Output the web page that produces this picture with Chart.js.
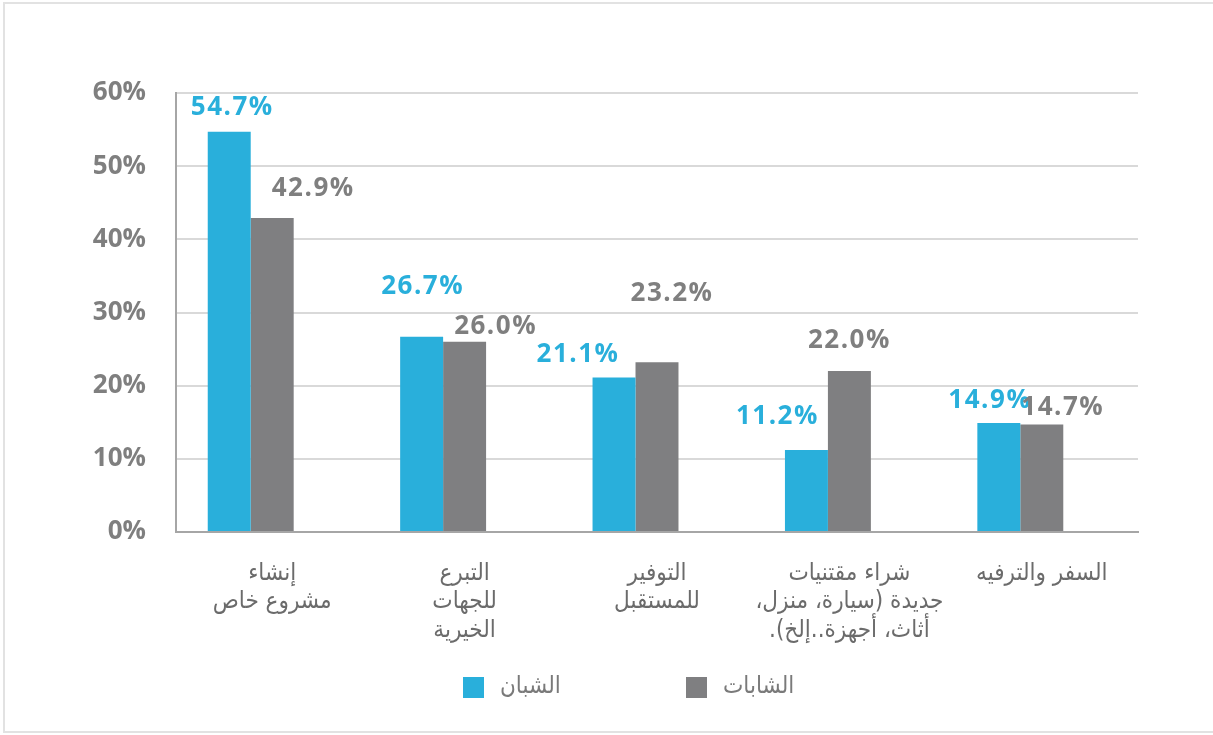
<!DOCTYPE html>
<html>
<head>
<meta charset="utf-8">
<script src="https://cdn.jsdelivr.net/npm/chart.js@4.4.1/dist/chart.umd.min.js"></script>
<style>
  html, body { margin: 0; padding: 0; background: #fff; }
  #wrap { position: relative; width: 1213px; height: 735px; }
  #frame { position: absolute; left: 3px; top: 2px; width: 1212px; height: 731px; border-left: 2px solid #e2e2e2; border-top: 2px solid #e2e2e2; border-bottom: 2px solid #e2e2e2; box-sizing: border-box; pointer-events: none; }
</style>
</head>
<body>
<div id="wrap">
  <canvas id="c" width="1213" height="735"></canvas>
  <div id="frame"></div>
</div>
<script>
const categories = [
  ["إنشاء", "مشروع خاص"],
  ["التبرع", "للجهات", "الخيرية"],
  ["التوفير", "للمستقبل"],
  ["شراء مقتنيات", "جديدة (سيارة، منزل،", "أثاث، أجهزة..إلخ)."],
  ["السفر والترفيه"]
];
const seriesNames = ["الشبان", "الشابات"];
const youngMen = [54.7, 26.7, 21.1, 11.2, 14.9];
const youngWomen = [42.9, 26.0, 23.2, 22.0, 14.7];
const yTicks = [0, 10, 20, 30, 40, 50, 60];

const BLUE = '#29afdb';
const GRAY = '#7f7f81';
const TEXT_GRAY = '#7f7f7f';

// label placement tweaks (pixels, relative to bar top-center)
const labelOffsets = [
  [[3, -24], [1, -50], [-36, -23], [-29, -33], [-9, -22]],
  [[41, -30], [31, -15], [15, -69], [0, -30], [21, -17]]
];

const valueLabels = {
  id: 'valueLabels',
  afterDatasetsDraw(chart) {
    const ctx = chart.ctx;
    ctx.save();
    ctx.font = 'bold 26px "Open Sans", "DejaVu Sans", sans-serif';
    try { ctx.letterSpacing = '1.5px'; } catch (e) {}
    ctx.textAlign = 'center';
    ctx.textBaseline = 'middle';
    [0, 1].forEach(di => {
      const ds = chart.data.datasets[di];
      const meta = chart.getDatasetMeta(di);
      meta.data.forEach((bar, i) => {
        const off = labelOffsets[di][i];
        ctx.fillStyle = di === 0 ? BLUE : TEXT_GRAY;
        ctx.fillText(ds.data[i].toFixed(1) + '%', bar.x + off[0], bar.y + off[1]);
      });
    });
    ctx.restore();
  }
};

const customLegend = {
  id: 'customLegend',
  afterDraw(chart) {
    const ctx = chart.ctx;
    ctx.save();
    ctx.font = '24px "DejaVu Sans Condensed", "DejaVu Sans", sans-serif';
    ctx.textBaseline = 'middle';
    ctx.textAlign = 'left';
    const xs = [463, 686];
    const y = 687;
    [0, 1].forEach(di => {
      const ds = chart.data.datasets[di];
      ctx.fillStyle = ds.backgroundColor;
      ctx.fillRect(xs[di], y - 10, 21, 21);
      ctx.fillStyle = '#7a7a7a';
      ctx.fillText('\u200F' + ds.label + '\u200F', xs[di] + 37, y);
    });
    ctx.restore();
  }
};

new Chart(document.getElementById('c'), {
  type: 'bar',
  data: {
    labels: categories,
    datasets: [
      { label: seriesNames[0], data: youngMen, backgroundColor: BLUE, borderWidth: 0 },
      { label: seriesNames[1], data: youngWomen, backgroundColor: GRAY, borderWidth: 0 },
      // empty spacer series (no values) that reserves a slot in each group, as in the original
      { label: '', data: [], backgroundColor: 'rgba(0,0,0,0)', borderWidth: 0 }
    ]
  },
  options: {
    responsive: false,
    animation: false,
    devicePixelRatio: 1,
    layout: { padding: { top: 93, right: 75, bottom: 0, left: 0 } },
    plugins: {
      legend: { display: false },
      tooltip: { enabled: false }
    },
    datasets: { bar: { categoryPercentage: 0.67, barPercentage: 1.0 } },
    scales: {
      x: {
        grid: { display: false, drawTicks: false },
        border: { display: true, color: '#a6a6a6', width: 2 },
        ticks: {
          color: '#6b6b6b',
          font: { family: '"DejaVu Sans Condensed", "DejaVu Sans", sans-serif', size: 24, lineHeight: 1.2 },
          padding: 27,
          maxRotation: 0,
          autoSkip: false,
          callback: function (v) {
            const lab = this.getLabelForValue(v);
            return (Array.isArray(lab) ? lab : [lab]).map(s => '\u200F' + s + '\u200F');
          }
        },
        afterFit(s) { s.height = 203; }
      },
      y: {
        min: 0,
        max: 60,
        afterBuildTicks(s) { s.ticks = yTicks.map(v => ({ value: v })); },
        grid: { color: '#d9d9d9', lineWidth: 2, drawTicks: false },
        border: { display: true, color: '#a6a6a6', width: 2 },
        ticks: {
          color: TEXT_GRAY,
          font: { family: '"Open Sans", "DejaVu Sans", sans-serif', size: 26, weight: 'bold' },
          padding: 30,
          callback: v => v + '%'
        },
        afterFit(s) { s.width = 176; }
      }
    }
  },
  plugins: [valueLabels, customLegend]
});
</script>
</body>
</html>
